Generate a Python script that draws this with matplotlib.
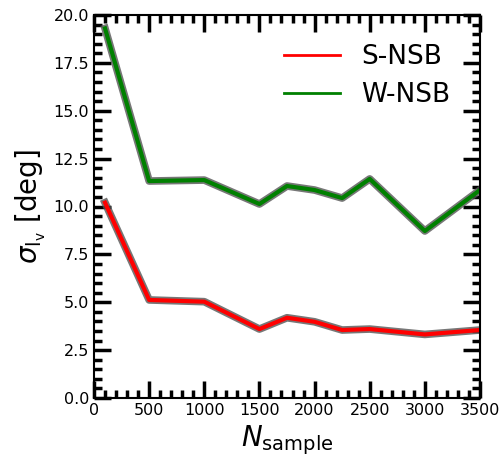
import matplotlib
matplotlib.use("Agg")
import matplotlib.pyplot as plt
import matplotlib.patheffects as pe
from matplotlib.ticker import MultipleLocator

n_sample = [100, 500, 1000, 1500, 1750, 2000, 2250, 2500, 3000, 3500]
s_nsb = [10.2, 5.12, 5.03, 3.6, 4.19, 3.98, 3.55, 3.6, 3.32, 3.55]
w_nsb = [19.3, 11.33, 11.38, 10.13, 11.07, 10.86, 10.44, 11.44, 8.72, 10.86]

fig = plt.figure(figsize=(5.01, 4.62), dpi=100)
ax = fig.add_axes([94 / 501, 1 - 398 / 462, 386 / 501, 383 / 462])

shadow = [pe.Stroke(linewidth=5.5, foreground='#555555', alpha=0.8), pe.Normal()]
ax.plot(n_sample, s_nsb, color='red', lw=3, label='S-NSB', path_effects=shadow)
ax.plot(n_sample, w_nsb, color='green', lw=3, label='W-NSB', path_effects=shadow)

ax.set_xlim(0, 3500)
ax.set_ylim(0, 20)
ax.xaxis.set_major_locator(MultipleLocator(500))
ax.xaxis.set_minor_locator(MultipleLocator(100))
ax.yaxis.set_major_locator(MultipleLocator(2.5))
ax.yaxis.set_minor_locator(MultipleLocator(0.5))
ax.tick_params(which='both', direction='in', top=True, right=True, width=2.5, labelsize=11.5)
ax.tick_params(which='major', length=12)
ax.tick_params(which='minor', length=6)
for s in ax.spines.values():
    s.set_linewidth(1.5)

ax.set_xlabel(r'$N_{\rm sample}$', fontsize=20)
ax.set_ylabel(r'$\sigma_{\rm l_v}$ [deg]', fontsize=20)

leg = ax.legend(fontsize=19, frameon=False, loc='upper left', bbox_to_anchor=(0.43, 0.985),
                handlelength=2.15, handletextpad=0.8, labelspacing=0.45)
for h in leg.get_lines():
    h.set_path_effects([])
    h.set_linewidth(2)

fig.savefig('out.png', dpi=100)
